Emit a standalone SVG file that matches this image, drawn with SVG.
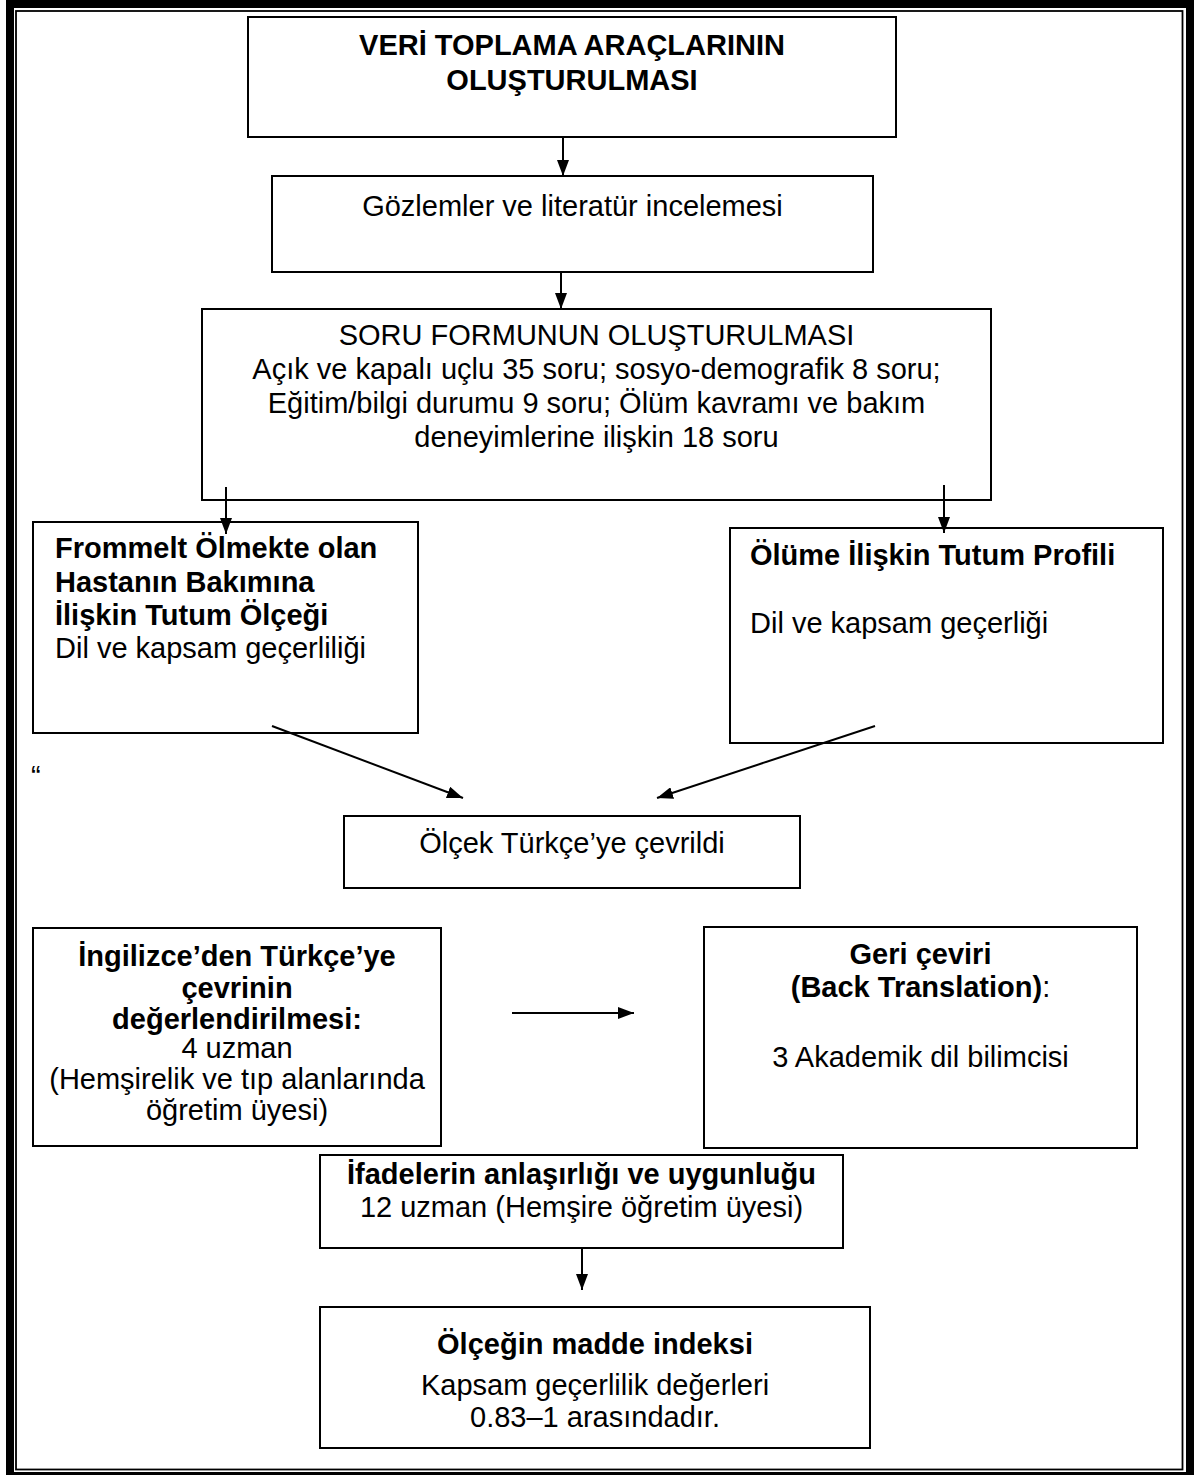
<svg xmlns="http://www.w3.org/2000/svg" width="1194" height="1475" viewBox="0 0 1194 1475">
<style>
text{font-family:"Liberation Sans",Arial,sans-serif;font-size:29px;fill:#000}
.b{font-weight:bold}
.c{text-anchor:middle}
.box{fill:#fff;stroke:#000;stroke-width:2}
.ln{stroke:#000;stroke-width:2;fill:none;marker-end:url(#ah)}
</style>
<defs>
<marker id="ah" markerUnits="userSpaceOnUse" markerWidth="16" markerHeight="12" refX="16" refY="6" orient="auto">
<path d="M0,0 L16,6 L0,12 z" fill="#000"/>
</marker>
</defs>
<rect x="0" y="0" width="1194" height="1475" fill="#fff"/>
<rect x="10" y="4" width="1180" height="1472" fill="none" stroke="#000" stroke-width="8"/>
<rect x="16" y="11" width="1166.5" height="1458.5" fill="none" stroke="#000" stroke-width="1.8"/>

<g id="n1"><rect class="box" x="248" y="17" width="648" height="120"/>
<text class="b c" x="572" y="55">VERİ TOPLAMA ARAÇLARININ</text>
<text class="b c" x="572" y="90">OLUŞTURULMASI</text></g>

<g id="n2"><rect class="box" x="272" y="176" width="601" height="96"/>
<text class="c" x="572.5" y="216">Gözlemler ve literatür incelemesi</text></g>

<g id="n3"><rect class="box" x="202" y="309" width="789" height="191"/>
<text class="c" x="596.5" y="345">SORU FORMUNUN OLUŞTURULMASI</text>
<text class="c" x="596.5" y="379">Açık ve kapalı uçlu 35 soru; sosyo-demografik 8 soru;</text>
<text class="c" x="596.5" y="413">Eğitim/bilgi durumu 9 soru; Ölüm kavramı ve bakım</text>
<text class="c" x="596.5" y="447">deneyimlerine ilişkin 18 soru</text></g>

<g id="n4"><rect class="box" x="33" y="522" width="385" height="211"/>
<text class="b" x="55" y="558">Frommelt Ölmekte olan</text>
<text class="b" x="55" y="592">Hastanın Bakımına</text>
<text class="b" x="55" y="625">İlişkin Tutum Ölçeği</text>
<text x="55" y="658">Dil ve kapsam geçerliliği</text></g>

<g id="n5"><rect class="box" x="730" y="528" width="433" height="215"/>
<text class="b" x="750" y="565">Ölüme İlişkin Tutum Profili</text>
<text x="750" y="633">Dil ve kapsam geçerliği</text></g>

<text x="31" y="786">“</text>

<g id="n6"><rect class="box" x="344" y="816" width="456" height="72"/>
<text class="c" x="572" y="853">Ölçek Türkçe’ye çevrildi</text></g>

<g id="n7"><rect class="box" x="33" y="928" width="408" height="218"/>
<text class="b c" x="237" y="966">İngilizce’den Türkçe’ye</text>
<text class="b c" x="237" y="998">çevrinin</text>
<text class="b c" x="237" y="1029">değerlendirilmesi:</text>
<text class="c" x="237" y="1058">4 uzman</text>
<text class="c" x="237" y="1089">(Hemşirelik ve tıp alanlarında</text>
<text class="c" x="237" y="1120">öğretim üyesi)</text></g>

<g id="n8"><rect class="box" x="704" y="927" width="433" height="221"/>
<text class="b c" x="920.5" y="964">Geri çeviri</text>
<text class="c" x="920.5" y="997"><tspan class="b">(Back Translation)</tspan>:</text>
<text class="c" x="920.5" y="1067">3 Akademik dil bilimcisi</text></g>

<g id="n9"><rect class="box" x="320" y="1155" width="523" height="93"/>
<text class="b c" x="581.5" y="1184">İfadelerin anlaşırlığı ve uygunluğu</text>
<text class="c" x="581.5" y="1217">12 uzman (Hemşire öğretim üyesi)</text></g>

<g id="n10"><rect class="box" x="320" y="1307" width="550" height="141"/>
<text class="b c" x="595" y="1354">Ölçeğin madde indeksi</text>
<text class="c" x="595" y="1395">Kapsam geçerlilik değerleri</text>
<text class="c" x="595" y="1427">0.83–1 arasındadır.</text></g>

<g id="connectors">
<path class="ln" d="M563,137 V176"/>
<path class="ln" d="M561,272 V309"/>
<path class="ln" d="M226,487 V534"/>
<path class="ln" d="M944,485 V533"/>
<path class="ln" d="M272,726 L463,798"/>
<path class="ln" d="M875,726 L657,798"/>
<path class="ln" d="M512,1013 H634"/>
<path class="ln" d="M582,1248 V1290"/>
</g>
</svg>
